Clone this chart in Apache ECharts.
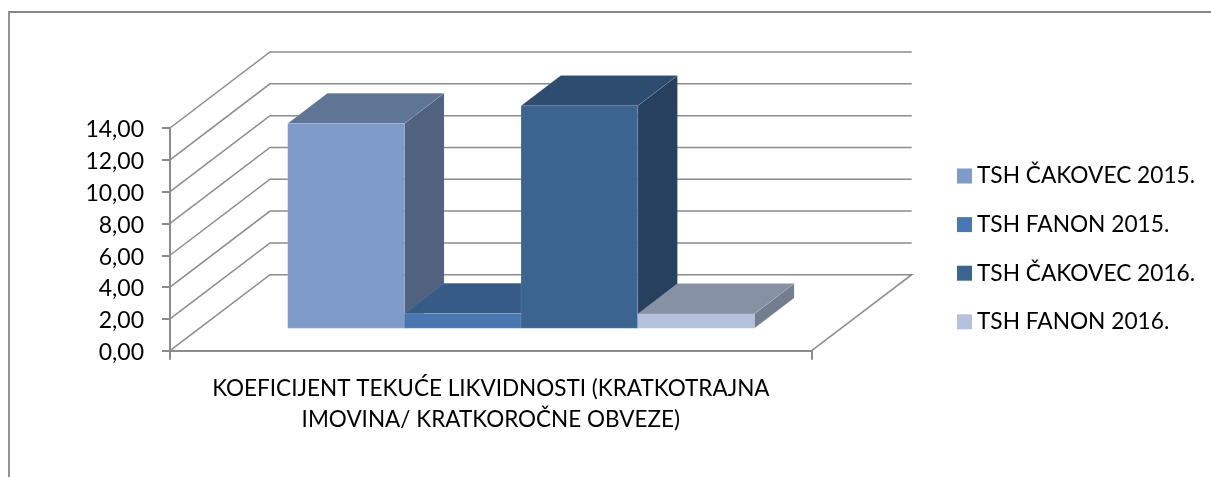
<!DOCTYPE html>
<html>
<head>
<meta charset="utf-8">
<style>
  html, body { margin: 0; padding: 0; background: #fff; }
  #chart { width: 1211px; height: 477px; }
</style>
<script src="https://cdn.jsdelivr.net/npm/echarts@6/dist/echarts.min.js"></script>
</head>
<body>
<div id="chart"></div>
<script>
var categories = ["KOEFICIJENT TEKUĆE LIKVIDNOSTI (KRATKOTRAJNA\nIMOVINA/ KRATKOROČNE OBVEZE)"];
var seriesNames = ["TSH ČAKOVEC 2015.", "TSH FANON 2015.", "TSH ČAKOVEC 2016.", "TSH FANON 2016."];
var cakovec2015 = [12.87];
var fanon2015 = [0.92];
var cakovec2016 = [13.98];
var fanon2016 = [0.9];
var yTicks = [0, 2, 4, 6, 8, 10, 12, 14];

// front, top, side
var shades = [
  ["#7f9bc9", "#5f7596", "#506280"],
  ["#4877b1", "#365b86", "#2f4f76"],
  ["#3b6491", "#2d4c70", "#27405e"],
  ["#b3c1dc", "#8691a5", "#737d8f"],
];

// 3d look: floor depth in px, how far the bars stand in it, and bar depth
var floorDx = 100, floorDy = 76;
var barShiftDx = 30.2, barShiftDy = 22.5;
var barDx = 39.7, barDy = 30.3;
var gapRatio = 1.5;

var chart = echarts.init(document.getElementById("chart"));

function gridItem(params, api) {
  var sys = params.coordSys;
  var p = api.coord([0, api.value(0)]);
  var y = p[1];
  var left = sys.x, right = sys.x + sys.width;
  var points = [[left, y], [left + floorDx, y - floorDy], [right + floorDx, y - floorDy]];
  if (api.value(0) === 0) {
    points.push([right, y]);
  }
  return {
    type: "polyline",
    shape: { points: points },
    style: { fill: "none", stroke: "#8c8c8c", lineWidth: 1.5 },
  };
}

function barItem(index) {
  return function (params, api) {
    var sys = params.coordSys;
    var w = sys.width / (seriesNames.length + gapRatio);
    var x0 = sys.x + barShiftDx + (w * gapRatio) / 2 + index * w;
    var x1 = x0 + w;
    var yBase = api.coord([0, 0])[1] - barShiftDy;
    var yTop = api.coord([0, api.value(1)])[1] - barShiftDy;
    var c = shades[index];
    var edge = "rgba(255,255,255,0.1)";
    return {
      type: "group",
      children: [
        {
          type: "polygon",
          shape: { points: [[x1, yBase], [x1 + barDx, yBase - barDy], [x1 + barDx, yTop - barDy], [x1, yTop]] },
          style: { fill: c[2], stroke: edge, lineWidth: 1 },
        },
        {
          type: "polygon",
          shape: { points: [[x0, yTop], [x0 + barDx, yTop - barDy], [x1 + barDx, yTop - barDy], [x1, yTop]] },
          style: { fill: c[1], stroke: edge, lineWidth: 1 },
        },
        {
          type: "rect",
          shape: { x: x0, y: yTop, width: w, height: yBase - yTop },
          style: { fill: c[0], stroke: edge, lineWidth: 1 },
        },
      ],
    };
  };
}

function barSeries(index, values) {
  return {
    name: seriesNames[index],
    type: "custom",
    clip: false,
    silent: true,
    z: 3 + index,
    itemStyle: { color: shades[index][0] },
    encode: { x: 0, y: 1 },
    data: values.map(function (v, i) { return [i, v]; }),
    renderItem: barItem(index),
  };
}

var textFont = "Lato";

var option = {
  backgroundColor: "#fff",
  animation: false,
  graphic: [
    {
      type: "polyline",
      silent: true,
      shape: { points: [[9, 477], [9, 12], [1211, 12]] },
      style: { fill: "none", stroke: "#868686", lineWidth: 1.8 },
    },
  ],
  legend: {
    orient: "vertical",
    left: 957,
    top: 164.5,
    padding: 0,
    icon: "rect",
    itemWidth: 15,
    itemHeight: 15,
    itemGap: 25.6,
    itemStyle: { borderWidth: 0 },
    data: seriesNames,
    textStyle: { fontFamily: textFont, fontSize: 22.7, color: "#000", height: 23, lineHeight: 23 },
  },
  grid: { left: 170, top: 128, width: 641.7, height: 222.7 },
  xAxis: {
    type: "category",
    data: categories,
    axisLine: { lineStyle: { color: "#8c8c8c", width: 2 } },
    axisTick: { show: true, length: 9, lineStyle: { color: "#8c8c8c", width: 2 } },
    axisLabel: { fontFamily: textFont, fontSize: 22.5, color: "#000", lineHeight: 31, margin: 23 },
  },
  yAxis: {
    type: "value",
    min: 0,
    max: 14,
    interval: 2,
    splitLine: { show: false },
    axisLine: { show: true, lineStyle: { color: "#8c8c8c", width: 2 } },
    axisTick: { show: true, length: 8, lineStyle: { color: "#8c8c8c", width: 2 } },
    axisLabel: {
      fontFamily: textFont,
      fontSize: 23,
      color: "#000",
      margin: 26,
      verticalAlign: "top",
      lineHeight: 4,
      formatter: function (v) { return v.toFixed(2).replace(".", ","); },
    },
  },
  series: [
    {
      type: "custom",
      clip: false,
      silent: true,
      z: 1,
      encode: { y: 0 },
      data: yTicks.map(function (t) { return [t]; }),
      renderItem: gridItem,
    },
    barSeries(0, cakovec2015),
    barSeries(1, fanon2015),
    barSeries(2, cakovec2016),
    barSeries(3, fanon2016),
  ],
};

chart.setOption(option);
</script>
</body>
</html>
